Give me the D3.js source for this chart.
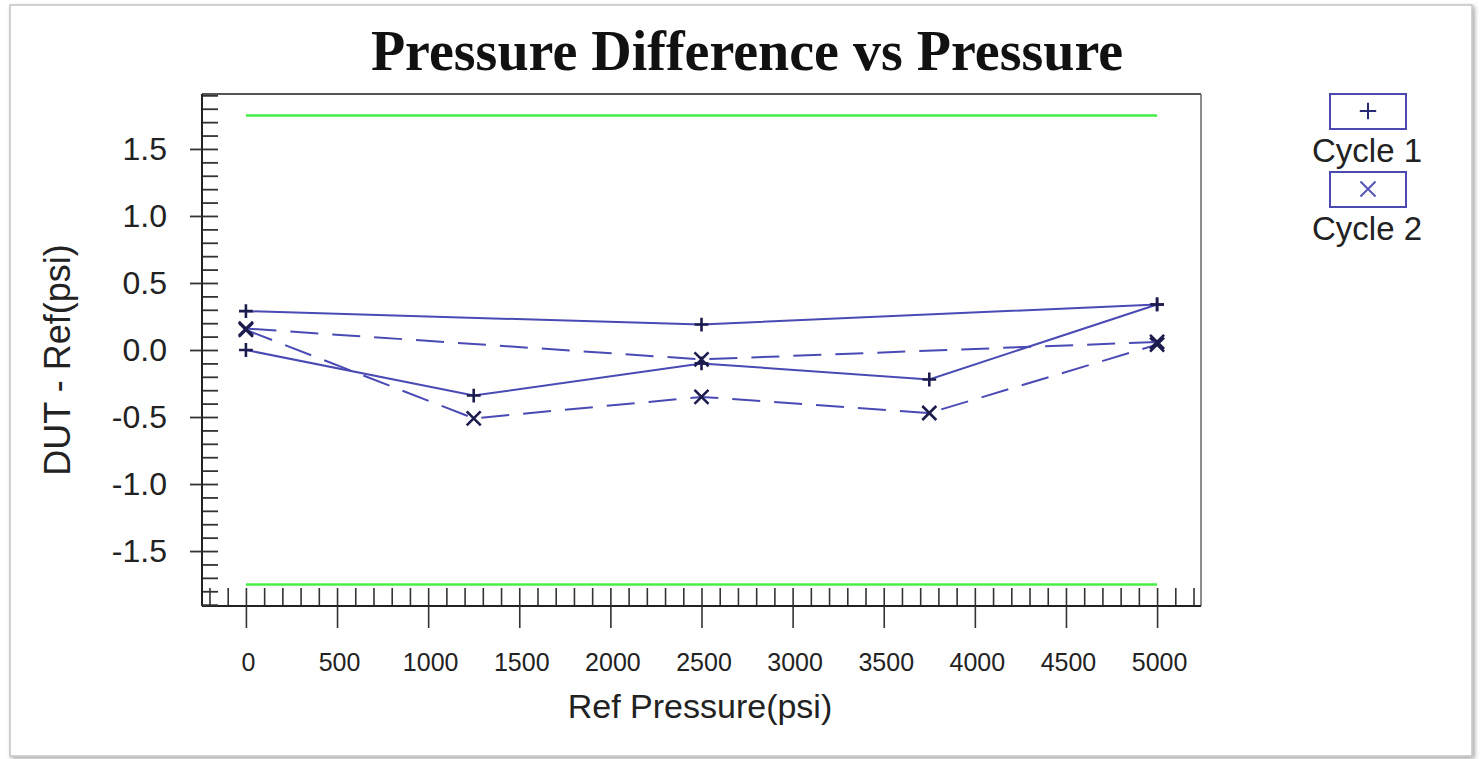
<!DOCTYPE html>
<html lang="en">
<head>
    <meta charset="UTF-8">
    <title>Pressure Difference vs Pressure</title>
    <style>
        body { margin: 0; background: #fff; }
        text { font-family: Arial, "Liberation Sans", sans-serif; }
    </style>
</head>
<body>
<script src="https://d3js.org/d3.v7.min.js"></script>
<script>
    // data
    var seriesNames = ['Cycle 1', 'Cycle 2'];
    var pressureUp = [0, 1250, 2500, 3750, 5000];
    var pressureDown = [5000, 2500, 0];
    var cycle1Up = [0.00, -0.34, -0.10, -0.22, 0.34];
    var cycle1Down = [0.34, 0.19, 0.29];
    var cycle2Up = [0.15, -0.51, -0.35, -0.47, 0.04];
    var cycle2Down = [0.06, -0.07, 0.16];
    var limits = [1.75, -1.75];
    var xMajorTicks = [0, 500, 1000, 1500, 2000, 2500, 3000, 3500, 4000, 4500, 5000];
    var yMajorTicks = [-1.5, -1.0, -0.5, 0.0, 0.5, 1.0, 1.5];

    var width = 1481,
        height = 759,
        plotLeft = 202, plotRight = 1201, plotTop = 94, plotBottom = 606,
        lineColor = '#4a4ab4',
        markColor = '#1c1c4e';

    var svg = d3.select('body').append('svg')
                .attr('width', width)
                .attr('height', height);

    // card with a soft shadow round the chart
    var defs = svg.append('defs');
    var f = defs.append('filter').attr('id', 'shadow')
                .attr('x', '-5%').attr('y', '-5%').attr('width', '110%').attr('height', '110%');
    f.append('feDropShadow').attr('dx', 2).attr('dy', 2).attr('stdDeviation', 2)
     .attr('flood-color', '#000').attr('flood-opacity', 0.35);
    svg.append('rect')
       .attr('x', 10).attr('y', 5).attr('width', 1462).attr('height', 751)
       .attr('fill', '#fff').attr('stroke', '#c4c4c4').attr('stroke-width', 1.5)
       .attr('filter', 'url(#shadow)');

    var x = d3.scaleLinear().domain([-241, 5241]).range([plotLeft, plotRight]);
    var y = d3.scaleLinear().domain([-1.91, 1.91]).range([plotBottom, plotTop]);

    // frame
    svg.append('line').attr('x1', plotLeft).attr('x2', plotRight).attr('y1', plotTop).attr('y2', plotTop)
       .attr('stroke', '#555').attr('stroke-width', 2);
    svg.append('line').attr('x1', plotRight).attr('x2', plotRight).attr('y1', plotTop).attr('y2', plotBottom)
       .attr('stroke', '#666').attr('stroke-width', 1.5);

    function renderXAxis() {
        var minor = d3.range(-200, 5201, 100);
        var g = svg.append('g')
           .attr('class', 'x-axis')
           .attr('transform', 'translate(0,' + plotBottom + ')');
        g.call(d3.axisBottom(x).tickValues(minor).tickSizeInner(-18).tickSizeOuter(0).tickFormat(''));
        g.select('.domain').remove();
        var g2 = svg.append('g')
           .attr('class', 'x-axis-major')
           .attr('transform', 'translate(0,' + plotBottom + ')');
        g2.call(d3.axisBottom(x).tickValues(xMajorTicks).tickSize(22).tickPadding(25).tickFormat(d3.format('d')));
        g2.select('.domain').attr('d', 'M' + plotLeft + ',0H' + plotRight).attr('stroke', '#222').attr('stroke-width', 2);
        g2.selectAll('.tick text').attr('font-size', 25).attr('fill', '#222').attr('dx', 2);
        svg.selectAll('.x-axis line, .x-axis-major line').attr('stroke', '#333').attr('stroke-width', 1.6);
    }

    function renderYAxis() {
        var minor = d3.range(-19, 20).map(function (d) { return d / 10; });
        var g = svg.append('g')
           .attr('class', 'y-axis')
           .attr('transform', 'translate(' + plotLeft + ',0)');
        g.call(d3.axisLeft(y).tickValues(minor).tickSizeInner(-16).tickSizeOuter(0).tickFormat(''));
        g.select('.domain').remove();
        var g2 = svg.append('g')
           .attr('class', 'y-axis-major')
           .attr('transform', 'translate(' + plotLeft + ',0)');
        g2.call(d3.axisLeft(y).tickValues(yMajorTicks).tickSize(12).tickPadding(23)
                  .tickFormat(function (d) { return d.toFixed(1); }));
        g2.select('.domain').attr('d', 'M0,' + plotTop + 'V' + plotBottom).attr('stroke', '#222').attr('stroke-width', 2);
        g2.selectAll('.tick text').attr('font-size', 32).attr('fill', '#222');
        svg.selectAll('.y-axis line, .y-axis-major line').attr('stroke', '#333').attr('stroke-width', 1.8);
    }

    renderXAxis();
    renderYAxis();

    // limit lines
    svg.selectAll('line.limit').data(limits).enter().append('line')
       .attr('class', 'limit')
       .attr('x1', x(0)).attr('x2', x(5000))
       .attr('y1', function (d) { return y(d); })
       .attr('y2', function (d) { return y(d); })
       .attr('stroke', '#44ee44').attr('stroke-width', 2.5);

    var series = [
        { name: seriesNames[0], xs: pressureUp, ys: cycle1Up, dash: null, sym: d3.symbolPlus },
        { name: seriesNames[0], xs: pressureDown, ys: cycle1Down, dash: null, sym: d3.symbolPlus },
        { name: seriesNames[1], xs: pressureUp, ys: cycle2Up, dash: '28,14', sym: d3.symbolTimes },
        { name: seriesNames[1], xs: pressureDown, ys: cycle2Down, dash: '28,14', sym: d3.symbolTimes }
    ];

    var line = d3.line()
        .x(function (d) { return x(d[0]); })
        .y(function (d) { return y(d[1]); });

    series.forEach(function (s) {
        var pts = d3.zip(s.xs, s.ys);
        svg.append('path')
           .datum(pts)
           .attr('d', line)
           .attr('fill', 'none')
           .attr('stroke', lineColor)
           .attr('stroke-width', 2)
           .attr('stroke-dasharray', s.dash);
        svg.selectAll(null).data(pts).enter().append('path')
           .attr('transform', function (d) { return 'translate(' + x(d[0]) + ',' + y(d[1]) + ')'; })
           .attr('d', d3.symbol().type(s.sym).size(s.sym === d3.symbolPlus ? 64 : 130))
           .attr('fill', 'none')
           .attr('stroke', markColor)
           .attr('stroke-width', 2.6);
    });

    // title and axis titles
    svg.append('text')
       .attr('x', 747).attr('y', 70)
       .attr('text-anchor', 'middle')
       .style('font-family', '"Liberation Serif", "Times New Roman", serif')
       .attr('font-weight', 'bold')
       .attr('font-size', 56)
       .attr('fill', '#111')
       .text('Pressure Difference vs Pressure');

    svg.append('text')
       .attr('x', 700).attr('y', 718)
       .attr('text-anchor', 'middle')
       .attr('font-size', 34)
       .attr('fill', '#222')
       .text('Ref Pressure(psi)');

    svg.append('text')
       .attr('transform', 'translate(70,360) rotate(-90)')
       .attr('text-anchor', 'middle')
       .attr('font-size', 36)
       .attr('fill', '#222')
       .text('DUT - Ref(psi)');

    // legend
    var legendSyms = [d3.symbolPlus, d3.symbolTimes];
    var lg = svg.selectAll('g.legend').data(seriesNames).enter().append('g')
       .attr('class', 'legend')
       .attr('transform', function (d, i) { return 'translate(1368,' + (111 + i * 78) + ')'; });
    lg.append('rect')
      .attr('x', -38).attr('y', -17).attr('width', 76).attr('height', 35)
      .attr('fill', '#fff').attr('stroke', '#4a4ab0').attr('stroke-width', 2);
    lg.append('path')
      .attr('d', function (d, i) { return d3.symbol().type(legendSyms[i]).size(i === 0 ? 90 : 150)(); })
      .attr('fill', 'none')
      .attr('stroke', function (d, i) { return i === 0 ? '#2a2a78' : '#5656b8'; })
      .attr('stroke-width', 2);
    lg.append('text')
      .attr('x', -1).attr('y', 51)
      .attr('text-anchor', 'middle')
      .attr('font-size', 33)
      .attr('fill', '#222')
      .text(function (d) { return d; });
</script>
</body>
</html>
